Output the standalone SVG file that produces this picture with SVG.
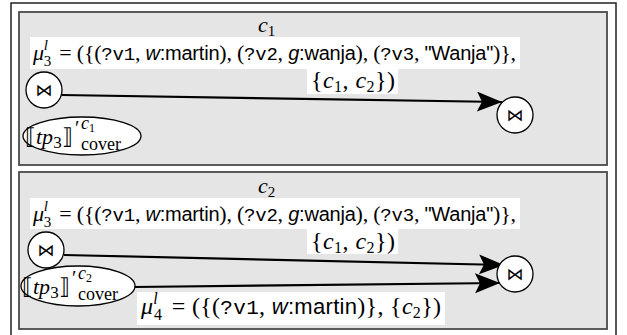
<svg xmlns="http://www.w3.org/2000/svg" width="627" height="335" viewBox="0 0 627 335">
<style>
.frame{fill:#fff;stroke:#222;stroke-width:1.5}
.panel{fill:#e5e5e5;stroke:#4a4a4a;stroke-width:1.8}
.box{fill:#fff}
.node{fill:#fff;stroke:#000;stroke-width:1.3}
.m{font-family:"Liberation Serif","DejaVu Serif",serif;font-size:22px;fill:#000}
.i{font-style:italic}
.s{font-size:15px}
.tt{font-family:"Liberation Mono","DejaVu Sans Mono",monospace;font-size:19px}
.sf{font-family:"Liberation Sans",Arial,sans-serif;font-size:20px}
.bow{font-family:"DejaVu Sans",sans-serif;font-size:17px;text-anchor:middle}
.edge{stroke:#000;stroke-width:2.2;fill:none}
.big{font-size:24px}
.big .tt{font-size:21px}
.big .sf{font-size:22px}
.big .s{font-size:16px}
</style>
<defs>
<marker id="ah" markerUnits="userSpaceOnUse" markerWidth="27" markerHeight="22" refX="25" refY="10" orient="auto" viewBox="0 0 27 22">
<path d="M0,0 L25,10 L0,20 L5,10 z" fill="#000"/>
</marker>
</defs>
<rect class="frame" x="11" y="3" width="605" height="345"/>
<g id="panel1">
<rect class="panel" x="19" y="12" width="588" height="153"/>
<text class="m i" x="258" y="32" font-size="24">c<tspan class="s" font-style="normal" dy="4">1</tspan></text>
<rect class="box" x="30" y="37" width="490" height="32"/>
<rect class="box" x="307" y="69" width="91" height="25"/>
</g>
<g id="panel2">
<rect class="panel" x="19" y="172" width="588" height="157"/>
<text class="m i" x="258" y="193" font-size="24">c<tspan class="s" font-style="normal" dy="4">2</tspan></text>
<rect class="box" x="30" y="198" width="490" height="31"/>
<rect class="box" x="307" y="229" width="91" height="25"/>
<rect class="box" x="137" y="292" width="308" height="33"/>
</g>
<g id="connectors">
<line class="edge" x1="62" y1="95" x2="502" y2="102" marker-end="url(#ah)"/>
<line class="edge" x1="64" y1="255" x2="504" y2="265" marker-end="url(#ah)"/>
<line class="edge" x1="134" y1="287" x2="500" y2="283" marker-end="url(#ah)"/>
</g>
<g id="label-mu3-c1">
<text class="m" x="33" y="60" textLength="483"><tspan class="i">μ</tspan><tspan class="i s" dy="-10">l</tspan><tspan class="s" dx="-4" dy="16">3</tspan><tspan dx="3" dy="-6"> = ({(</tspan><tspan class="tt">?v1</tspan>, <tspan class="sf i">w</tspan><tspan class="sf">:martin</tspan>), (<tspan class="tt">?v2</tspan>, <tspan class="sf i">g</tspan><tspan class="sf">:wanja</tspan>), (<tspan class="tt">?v3</tspan>, <tspan class="sf">"Wanja"</tspan>)},</text>
<text class="m big" x="311" y="88" textLength="84">{<tspan class="i">c</tspan><tspan class="s" dy="4">1</tspan><tspan dy="-4">, </tspan><tspan class="i">c</tspan><tspan class="s" dy="4">2</tspan><tspan dy="-4">})</tspan></text>
</g>
<g id="label-mu3-c2">
<text class="m" x="33" y="221" textLength="483"><tspan class="i">μ</tspan><tspan class="i s" dy="-10">l</tspan><tspan class="s" dx="-4" dy="16">3</tspan><tspan dx="3" dy="-6"> = ({(</tspan><tspan class="tt">?v1</tspan>, <tspan class="sf i">w</tspan><tspan class="sf">:martin</tspan>), (<tspan class="tt">?v2</tspan>, <tspan class="sf i">g</tspan><tspan class="sf">:wanja</tspan>), (<tspan class="tt">?v3</tspan>, <tspan class="sf">"Wanja"</tspan>)},</text>
<text class="m big" x="311" y="249" textLength="84">{<tspan class="i">c</tspan><tspan class="s" dy="4">1</tspan><tspan dy="-4">, </tspan><tspan class="i">c</tspan><tspan class="s" dy="4">2</tspan><tspan dy="-4">})</tspan></text>
</g>
<g id="label-mu4">
<text class="m big" x="141" y="314" textLength="300"><tspan class="i">μ</tspan><tspan class="i s" dy="-10">l</tspan><tspan class="s" dx="-4" dy="16">4</tspan><tspan dx="3" dy="-6"> = ({(</tspan><tspan class="tt">?v1</tspan>, <tspan class="sf i">w</tspan><tspan class="sf">:martin</tspan>)}, {<tspan class="i">c</tspan><tspan class="s" dy="4">2</tspan><tspan dy="-4">})</tspan></text>
</g>
<g id="join1-left">
<circle class="node" cx="44" cy="90" r="18"/>
<text class="bow" x="44" y="96">⋈</text>
</g>
<g id="join1-right">
<circle class="node" cx="515" cy="115" r="18"/>
<text class="bow" x="515" y="121">⋈</text>
</g>
<g id="tp3-c1">
<ellipse class="node" cx="82" cy="136" rx="59" ry="19"/>
<text class="m" x="25" y="144" font-size="26">⟦<tspan class="i">tp</tspan><tspan font-size="17" dy="4">3</tspan><tspan dy="-4">⟧</tspan><tspan font-size="20" x="75" y="135">′</tspan><tspan class="i" font-size="18" x="81" y="129">c</tspan><tspan font-size="12" dy="3">1</tspan><tspan font-size="18" x="81" y="150">cover</tspan></text>
</g>
<g id="join2-left">
<circle class="node" cx="46" cy="250" r="18"/>
<text class="bow" x="46" y="256">⋈</text>
</g>
<g id="join2-right">
<circle class="node" cx="515" cy="274" r="18"/>
<text class="bow" x="515" y="280">⋈</text>
</g>
<g id="tp3-c2">
<ellipse class="node" cx="78" cy="286" rx="57" ry="20"/>
<text class="m" x="22" y="294" font-size="26">⟦<tspan class="i">tp</tspan><tspan font-size="17" dy="4">3</tspan><tspan dy="-4">⟧</tspan><tspan font-size="20" x="72" y="285">′</tspan><tspan class="i" font-size="18" x="78" y="279">c</tspan><tspan font-size="12" dy="3">2</tspan><tspan font-size="18" x="78" y="300">cover</tspan></text>
</g>
</svg>
